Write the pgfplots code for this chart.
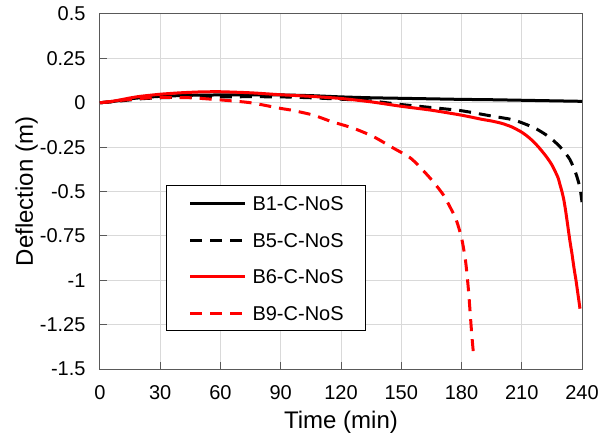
\documentclass[border=0pt]{standalone}
\usepackage{fontspec}
\setmainfont{Liberation Sans}
\usepackage{pgfplots}
\pgfplotsset{compat=1.18}
\definecolor{gridgray}{RGB}{217,217,217}
\definecolor{axgray}{RGB}{89,89,89}
\begin{document}
\begin{tikzpicture}
\path[use as bounding box] (-100pt,-75pt) rectangle (510pt,369pt);
\begin{axis}[
 at={(0pt,0pt)}, anchor=south west,
 scale only axis, width=482pt, height=355pt,
 xmin=0, xmax=240, ymin=-1.5, ymax=0.5,
 xtick={0,30,60,90,120,150,180,210,240},
 ytick={-1.5,-1.25,-1,-0.75,-0.5,-0.25,0,0.25,0.5},
 xticklabels={0,30,60,90,120,150,180,210,240},
 yticklabels={-1.5,-1.25,-1,-0.75,-0.5,-0.25,0,0.25,0.5},
 tick align=inside, xtick pos=bottom, ytick pos=left,
 major tick length=7pt,
 tick style={axgray, line width=1pt},
 axis line style={axgray, line width=1pt},
 grid=major, grid style={gridgray, line width=1pt},
 tick label style={font=\fontsize{20}{24}\selectfont},
 xticklabel style={yshift=-13pt},
 yticklabel style={xshift=-11pt},
 xlabel={Time (min)}, ylabel={Deflection (m)},
 label style={font=\fontsize{24}{28}\selectfont, inner sep=0pt},
 xlabel style={at={(axis description cs:0.5,0)}, anchor=north, yshift=-42pt},
 ylabel style={at={(axis description cs:0,0.5)}, anchor=south, yshift=62pt},
 legend style={at={(0.137,0.518)}, anchor=north west, draw=black, line width=1pt,
   inner xsep=22pt, inner ysep=10.3pt, row sep=22.2pt, column sep=6pt,
   font=\fontsize{20}{24}\selectfont,
   nodes={inner sep=0pt, text height=14.5pt, text depth=0pt, anchor=base west}},
 legend cell align=left,
 legend image code/.code={\draw[#1, line width=3pt] (0pt,7pt) -- (55pt,7pt);},
]
\addplot[black, line width=3pt, solid, smooth, tension=0.4] coordinates {
(0,0) (5,0.005) (10,0.013) (15,0.022) (20,0.028) (30,0.036) (45,0.042) (60,0.044) (75,0.045) (90,0.044) (105,0.04) (120,0.033) (135,0.028) (150,0.025) (165,0.022) (180,0.019) (195,0.017) (210,0.014) (225,0.011) (240,0.008)};
\addlegendentry{B1-C-NoS}
\addplot[black, line width=3pt, dash pattern=on 12pt off 8pt, smooth, tension=0.4] coordinates {
(0,0) (10,0.01) (20,0.022) (30,0.028) (45,0.032) (60,0.033) (75,0.034) (90,0.033) (105,0.028) (120,0.02) (135,0.01) (150,-0.01) (165,-0.027) (180,-0.045) (195,-0.075) (206,-0.097) (216,-0.14) (222,-0.18) (226,-0.215) (230,-0.26) (234,-0.32) (237,-0.4) (239,-0.48) (240,-0.56)};
\addlegendentry{B5-C-NoS}
\addplot[red, line width=3pt, solid, smooth, tension=0.4] coordinates {
(0,0) (5,0.006) (10,0.016) (15,0.027) (20,0.036) (30,0.048) (40,0.056) (50,0.061) (60,0.062) (75,0.056) (90,0.045) (105,0.036) (120,0.024) (135,0.005) (150,-0.02) (165,-0.042) (180,-0.07) (190,-0.093) (195,-0.103) (200,-0.116) (205,-0.136) (210,-0.166) (214,-0.2) (218,-0.245) (222,-0.3) (225,-0.35) (228,-0.42) (229,-0.46) (230,-0.5) (231,-0.55) (232,-0.62) (233,-0.7) (234,-0.78) (235,-0.85) (236,-0.93) (237,-1.0) (238,-1.08) (239,-1.16)};
\addlegendentry{B6-C-NoS}
\addplot[red, line width=3pt, dash pattern=on 12pt off 8pt, smooth, tension=0.4] coordinates {
(0,0) (10,0.013) (20,0.024) (30,0.03) (45,0.028) (60,0.016) (75,0.0) (90,-0.032) (95,-0.041) (106,-0.069) (115,-0.105) (126,-0.143) (136,-0.19) (146,-0.255) (155,-0.315) (164,-0.42) (171,-0.52) (177,-0.65) (180,-0.76) (182,-0.89) (183.5,-1.06) (185,-1.29) (186,-1.42)};
\addlegendentry{B9-C-NoS}
\end{axis}
\end{tikzpicture}
\end{document}
